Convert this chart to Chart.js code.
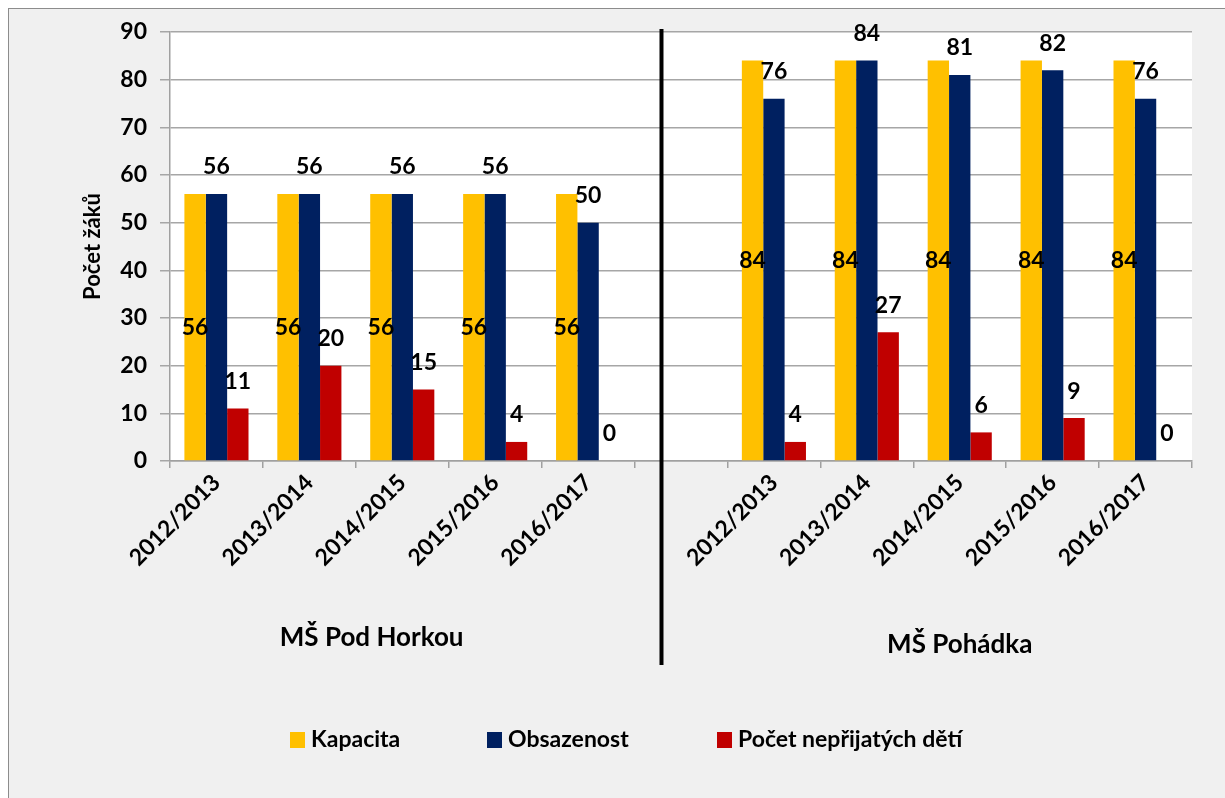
<!DOCTYPE html>
<html><head><meta charset="utf-8">
<script src="https://cdn.jsdelivr.net/npm/chart.js@4"></script>
<style>
html,body{margin:0;padding:0;background:#fff;overflow:hidden;}
#frame{position:absolute;left:8px;top:8px;width:1300px;height:900px;background:#f0f0f0;border:1px solid #8c8c8c;}
#wrap{position:absolute;left:0;top:0;width:1225px;height:798px;}
</style></head>
<body>
<div id="frame"></div>
<div id="wrap"><canvas id="c" width="1225" height="798"></canvas></div>
<script>
const categories = ['2012/2013','2013/2014','2014/2015','2015/2016','2016/2017','', '2012/2013','2013/2014','2014/2015','2015/2016','2016/2017'];
const groupLabels = ['MŠ Pod Horkou','MŠ Pohádka'];
const kapacita    = [56,56,56,56,56,null,84,84,84,84,84];
const obsazenost  = [56,56,56,56,50,null,76,84,81,82,76];
const nepřijatí   = [11,20,15,4,0,null,4,27,6,9,0];
const seriesNames = ['Kapacita','Obsazenost','Počet nepřijatých dětí'];
const colors = ['#FFC000','#002060','#C00000'];
const yTicks = {min:0,max:90,step:10};
const yTitle = 'Počet žáků';

const FONT = 'Lato';
const plotBg = {
  id:'plotBg',
  beforeDraw(chart){
    const {ctx, chartArea:a} = chart;
    ctx.save(); ctx.fillStyle='#fff'; ctx.fillRect(a.left,a.top,a.right-a.left,a.bottom-a.top); ctx.restore();
  }
};
const labelsPlugin = {
  id:'vals',
  afterDatasetsDraw(chart){
    const ctx = chart.ctx;
    ctx.save();
    ctx.font = `bold 23px ${FONT}`;
    ctx.fillStyle = '#000';
    ctx.textAlign='center'; ctx.textBaseline='middle';
    chart.data.datasets.forEach((ds,di)=>{
      const meta = chart.getDatasetMeta(di);
      meta.data.forEach((el,i)=>{
        const v = ds.data[i];
        if(v===null||v===undefined) return;
        let y;
        if(di===0) y = (el.y + el.base)/2; else y = el.y - 27;
        ctx.fillText(String(v), el.x, y);
      });
    });
    ctx.restore();
  }
};
const extras = {
  id:'extras',
  afterDraw(chart){
    const ctx = chart.ctx, x = chart.scales.x;
    const p = v => x.getPixelForValue(v);
    const step = p(1)-p(0);
    ctx.save();
    const lx = p(4) + 0.79*step;
    ctx.strokeStyle='#000'; ctx.lineWidth=4;
    ctx.beginPath(); ctx.moveTo(lx,29); ctx.lineTo(lx,665); ctx.stroke();
    ctx.fillStyle='#000'; ctx.font=`bold 26px ${FONT}`;
    ctx.textAlign='center'; ctx.textBaseline='middle';
    ctx.fillText(groupLabels[0], p(1)+0.67*step, 638);
    ctx.fillText(groupLabels[1], (p(6)+p(10))/2, 645);
    const items = [[290,95],[487,126],[717,242]];
    ctx.font=`bold 23px ${FONT}`; ctx.textAlign='left';
    seriesNames.forEach((n,i)=>{
      const [bx,w] = items[i];
      ctx.fillStyle=colors[i]; ctx.fillRect(bx,732,15,16);
      ctx.fillStyle='#000'; ctx.fillText(n, bx+21, 740, w);
    });
    ctx.restore();
  }
};

new Chart(document.getElementById('c'),{
  type:'bar',
  data:{
    labels:categories,
    datasets:[
      {label:seriesNames[0],data:kapacita,backgroundColor:colors[0]},
      {label:seriesNames[1],data:obsazenost,backgroundColor:colors[1]},
      {label:seriesNames[2],data:nepřijatí,backgroundColor:colors[2]}
    ]
  },
  options:{
    responsive:false,animation:false,
    layout:{padding:{left:0,top:32,right:33,bottom:0}},
    datasets:{bar:{categoryPercentage:0.69,barPercentage:1.0,borderWidth:0}},
    plugins:{legend:{display:false},tooltip:{enabled:false}},
    scales:{
      x:{
        offset:true,
        grid:{drawOnChartArea:false,offset:true,tickLength:7,color:'#a0a0a0',lineWidth:1.5},
        border:{color:'#a0a0a0',width:1.5},
        ticks:{maxRotation:45,minRotation:45,autoSkip:false,font:{family:FONT,weight:'bold',size:23},color:'#000',padding:1},
        afterFit(s){s.height=798-461;}
      },
      y:{
        min:yTicks.min,max:yTicks.max,
        ticks:{stepSize:yTicks.step,font:{family:FONT,weight:'bold',size:23},color:'#000',padding:13},
        grid:{color:'#a6a6a6',lineWidth:1.5,tickLength:10},
        border:{color:'#a0a0a0',width:1.5},
        title:{display:true,text:yTitle,font:{family:FONT,weight:'bold',size:22},color:'#000',padding:{top:80,bottom:0}},
        afterFit(s){s.width=170;}
      }
    }
  },
  plugins:[plotBg,labelsPlugin,extras]
});
</script>
</body></html>
